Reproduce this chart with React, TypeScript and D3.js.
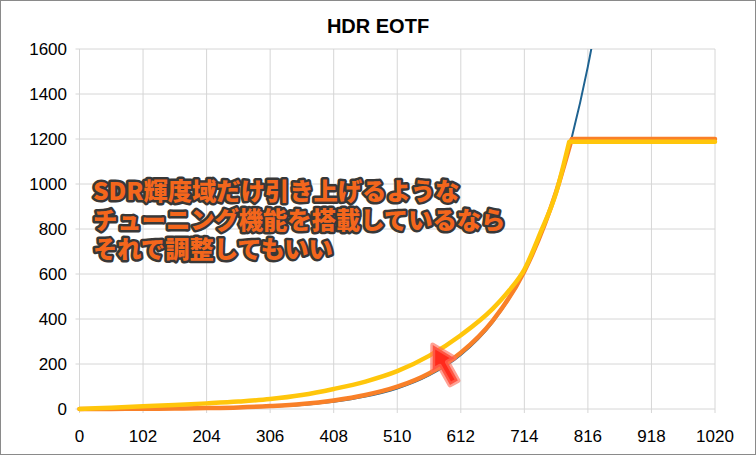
import React from "react";
import * as d3 from "d3";

const W = 756;
const H = 455;

const title = "HDR EOTF";
const xTicks = [0, 102, 204, 306, 408, 510, 612, 714, 816, 918, 1020];
const yTicks = [0, 200, 400, 600, 800, 1000, 1200, 1400, 1600];

// PQ reference curve (blue)
const pqCodes = [0, 51, 102, 153, 204, 255, 306, 357, 408, 459, 510, 561, 612, 663, 714, 765, 790, 816, 830];
const pqValues = [0, 0.1, 0.3, 1, 2.4, 5.1, 10, 18, 32, 55, 91, 149, 240, 384, 609, 964, 1206, 1523, 1726];

// Clipped at 1200 (orange): rising part, then flat part
const clipCodes = [0, 51, 102, 153, 204, 255, 306, 357, 408, 459, 510, 561, 612, 663, 714, 765, 790];
const clipValues = [0, 0.3, 1, 2, 4, 7, 13, 22, 38, 62, 99, 158, 250, 392, 612, 965, 1200];
const clipFlatEnd = 1020;

// SDR boosted (yellow): rising part, then flat part
const boostCodes = [0, 51, 102, 153, 204, 255, 306, 357, 408, 459, 510, 561, 612, 663, 690, 714, 740, 765, 786];
const boostValues = [0, 6, 12, 18, 25, 33, 44, 62, 89, 122, 168, 236, 328, 445, 528, 620, 785, 962, 1188];
const boostFlatEnd = 1020;

const noteLines = [
  "SDR輝度域だけ引き上げるような",
  "チューニング機能を搭載しているなら",
  "それで調整してもいい",
];

export default function App() {
  const x = d3.scaleLinear().domain([0, 1020]).range([79.5, 715]);
  const y = d3.scaleLinear().domain([0, 1600]).range([409, 49]);

  const line = (codes: number[], vals: number[]) =>
    d3
      .line<number>()
      .x((_, i) => x(codes[i]))
      .y((_, i) => y(vals[i]))
      .curve(d3.curveMonotoneX)(vals) || "";

  const withFlat = (codes: number[], vals: number[], end: number) =>
    line(codes, vals) + `L${x(end)},${y(vals[vals.length - 1])}`;

  // arrow in data coordinates
  const tip = [567, 284];
  const tail = [601, 117];
  const tx = x(tip[0]);
  const ty = y(tip[1]);
  const ex = x(tail[0]);
  const ey = y(tail[1]);
  const ang = (Math.atan2(ey - ty, ex - tx) * 180) / Math.PI;
  const len = Math.hypot(ex - tx, ey - ty);
  const headL = 22;
  const headW = 12.5;
  const shaftW = 4.5;
  const arrowPts = [
    [0, 0],
    [headL, -headW],
    [headL, -shaftW],
    [len, -shaftW],
    [len, shaftW],
    [headL, shaftW],
    [headL, headW],
  ]
    .map((p) => p.join(","))
    .join(" ");

  const font = "'Liberation Sans', Arial, sans-serif";

  return (
    <svg
      width={W}
      height={H}
      style={{ position: "absolute", left: 0, top: 0, background: "#fff" }}
    >
      <defs>
        <clipPath id="plot">
          <rect x={x(0) - 4} y={y(1600)} width={x(1020) - x(0) + 8} height={y(0) - y(1600) + 6} />
        </clipPath>
      </defs>
      <rect x={0.5} y={0.5} width={W - 1} height={H - 1} fill="#fff" stroke="#8a8a8a" />
      <text x={378} y={33} textAnchor="middle" fontFamily={font} fontWeight="bold" fontSize={20}>
        {title}
      </text>

      {/* grid */}
      {yTicks.map((t) => (
        <line key={"h" + t} x1={x(0) - 4} x2={x(1020)} y1={y(t)} y2={y(t)} stroke="#d6d6d6" strokeWidth={1} />
      ))}
      {xTicks.map((t) => (
        <line key={"v" + t} x1={x(t)} x2={x(t)} y1={y(1600)} y2={y(0) + 4} stroke="#d6d6d6" strokeWidth={1} />
      ))}

      {yTicks.map((t) => (
        <text key={"yl" + t} x={67} y={y(t) + 6} textAnchor="end" fontFamily={font} fontSize={17}>
          {t}
        </text>
      ))}
      {xTicks.map((t) => (
        <text key={"xl" + t} x={x(t)} y={442} textAnchor="middle" fontFamily={font} fontSize={17}>
          {t}
        </text>
      ))}

      <g clipPath="url(#plot)">
        <path d={line(pqCodes, pqValues)} fill="none" stroke="#1f6391" strokeWidth={2} />
        <path
          d={withFlat(clipCodes, clipValues, clipFlatEnd)}
          fill="none"
          stroke="#f98028"
          strokeWidth={4.5}
          strokeLinecap="round"
          strokeLinejoin="round"
        />
        <path
          d={withFlat(boostCodes, boostValues, boostFlatEnd)}
          fill="none"
          stroke="#ffc60b"
          strokeWidth={4.5}
          strokeLinecap="round"
          strokeLinejoin="round"
        />
      </g>

      {/* arrow */}
      <g transform={`translate(${tx},${ty}) rotate(${ang})`}>
        <polygon
          points={arrowPts}
          fill="#ff2a1c"
          stroke="rgba(255,110,90,0.65)"
          strokeWidth={5}
          strokeLinejoin="round"
        />
      </g>

      {/* annotation */}
      {noteLines.map((s, i) => (
        <text
          key={"n" + i}
          x={93}
          y={200 + i * 29}
          fontFamily="'Noto Sans CJK JP', sans-serif"
          fontWeight={900}
          fontSize={24.3}
          fill="#f4661c"
          stroke="#383838"
          strokeWidth={5}
          strokeLinejoin="round"
          paintOrder="stroke"
        >
          {s}
        </text>
      ))}
    </svg>
  );
}
